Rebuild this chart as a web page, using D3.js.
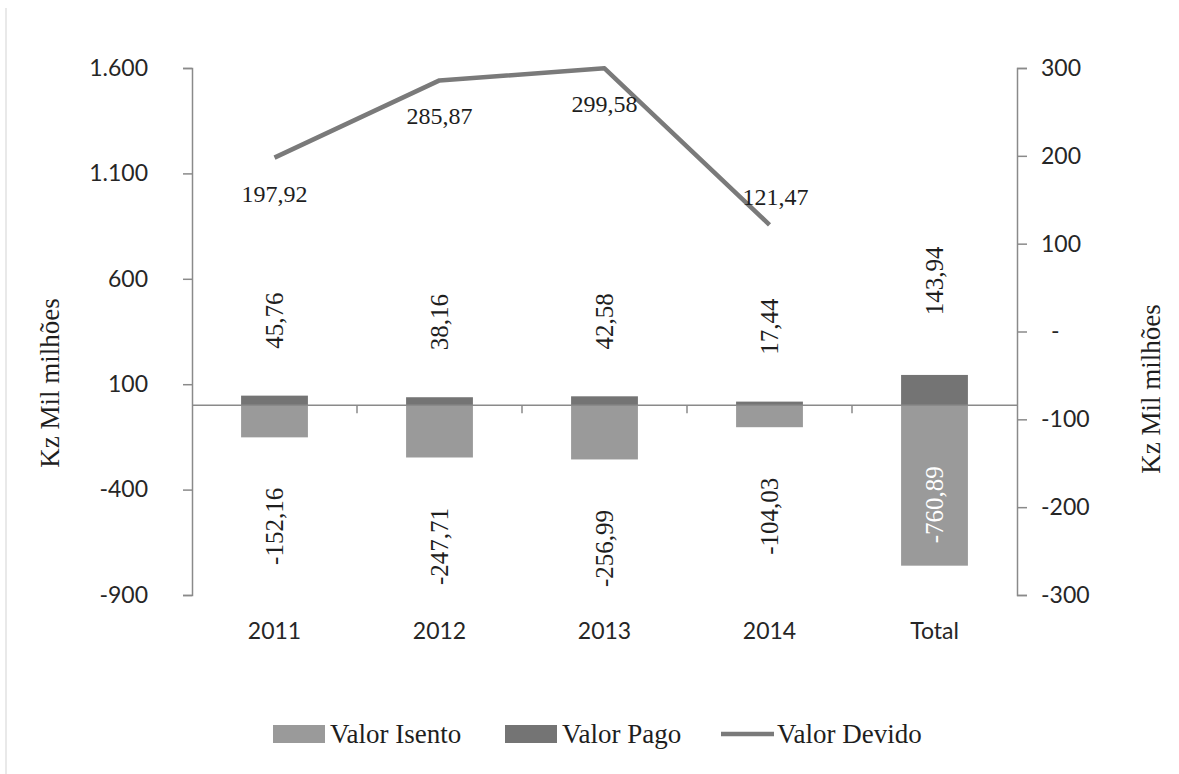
<!DOCTYPE html>
<html>
<head>
<meta charset="utf-8">
<script src="https://cdn.jsdelivr.net/npm/d3@7"></script>
<style>
  html, body { margin: 0; padding: 0; background: #fff; }
  svg { display: block; }
</style>
</head>
<body>
<svg id="chart" width="1179" height="774"></svg>
<script>
// Categories and series (Kz Mil milhões)
const categories = ["2011", "2012", "2013", "2014", "Total"];
const valorIsento = [-152.16, -247.71, -256.99, -104.03, -760.89];
const valorPago = [45.76, 38.16, 42.58, 17.44, 143.94];
const devidoCategories = ["2011", "2012", "2013", "2014"];
const valorDevido = [197.92, 285.87, 299.58, 121.47];

// Axis ticks
const leftTicks = [-900, -400, 100, 600, 1100, 1600];
const rightTicks = [-300, -200, -100, 0, 100, 200, 300];
const axisTitle = "Kz Mil milhões";
const legendLabels = ["Valor Isento", "Valor Pago", "Valor Devido"];

const colIsento = "#9a9a9a";
const colPago = "#747474";
const colLine = "#7a7a7a";
const colAxis = "#8a8a8a";
const colText = "#1e1e1e";
const colTick = "#262626";
const serif = "'Liberation Serif', 'Times New Roman', serif";
const sans = "Lato, 'Open Sans', sans-serif";

const svg = d3.select("#chart");

const plot = { left: 192, right: 1017, top: 68, bottom: 595 };

const x = d3.scaleBand().domain(categories).range([plot.left, plot.right]).paddingInner(0).paddingOuter(0);
const yL = d3.scaleLinear().domain([-900, 1600]).range([plot.bottom, plot.top]);
const yR = d3.scaleLinear().domain([-300, 300]).range([plot.bottom, plot.top]);

// Portuguese number formats with a plain hyphen for negatives
const hyphen = s => s.replace(/\u2212/g, "-");
const fmtPt = v => hyphen(d3.format(",.0f")(v).replace(/,/g, "."));
const fmtComma = v => hyphen(d3.format(".2f")(v).replace(".", ","));

// thin frame line at the left edge
svg.append("line").attr("x1", 6).attr("x2", 6).attr("y1", 8).attr("y2", 774)
  .attr("stroke", "#e2e2e2").attr("stroke-width", 1.5);

// Bars
const barW = x.bandwidth() * 0.405;
const cx = c => x(c) + x.bandwidth() / 2;

svg.append("g").selectAll("rect").data(categories).join("rect")
  .attr("x", (c) => cx(c) - barW / 2)
  .attr("width", barW)
  .attr("y", (c, i) => yL(0))
  .attr("height", (c, i) => yL(valorIsento[i]) - yL(0))
  .attr("fill", colIsento);

svg.append("g").selectAll("rect").data(categories).join("rect")
  .attr("x", (c) => cx(c) - barW / 2)
  .attr("width", barW)
  .attr("y", (c, i) => yL(valorPago[i]))
  .attr("height", (c, i) => yL(0) - yL(valorPago[i]))
  .attr("fill", colPago);

// Left axis
const leftAxis = d3.axisLeft(yL).tickValues(leftTicks).tickFormat(fmtPt).tickSize(9).tickPadding(35);
const gL = svg.append("g").attr("transform", `translate(${plot.left},0)`).call(leftAxis);
gL.select(".domain").attr("stroke", colAxis).attr("stroke-width", 1.5);
gL.selectAll(".tick line").attr("stroke", colAxis).attr("stroke-width", 1.5);
gL.selectAll(".tick text").attr("font-family", sans).attr("font-size", 23).attr("fill", colTick);

// Right axis
const rightAxis = d3.axisRight(yR).tickValues(rightTicks)
  .tickFormat(v => v === 0 ? "-" : hyphen(d3.format("d")(v))).tickSize(10).tickPadding(14);
const gR = svg.append("g").attr("transform", `translate(${plot.right},0)`).call(rightAxis);
gR.select(".domain").attr("stroke", colAxis).attr("stroke-width", 1.5);
gR.selectAll(".tick line").attr("stroke", colAxis).attr("stroke-width", 1.5);
gR.selectAll(".tick text").attr("font-family", sans).attr("font-size", 23).attr("fill", colTick)
  .attr("dx", d => d === 0 ? 10 : 0);

// Category axis along zero
const gX = svg.append("g").attr("transform", `translate(0,${yL(0)})`);
gX.append("line").attr("x1", plot.left).attr("x2", plot.right).attr("y1", 0).attr("y2", 0)
  .attr("stroke", colAxis).attr("stroke-width", 1.5);
gX.selectAll("line.tk").data(categories.slice(1)).join("line").attr("class", "tk")
  .attr("x1", c => x(c)).attr("x2", c => x(c)).attr("y1", 0).attr("y2", 8)
  .attr("stroke", colAxis).attr("stroke-width", 1.5);

svg.append("g").selectAll("text").data(categories).join("text")
  .attr("x", c => cx(c)).attr("y", 630)
  .attr("text-anchor", "middle").attr("dominant-baseline", "central")
  .attr("font-family", sans).attr("font-size", 23).attr("fill", colTick)
  .text(c => c);

// Line (right axis)
const line = d3.line().x(c => cx(c)).y((c, i) => yR(valorDevido[i]));
svg.append("path").datum(devidoCategories).attr("d", line)
  .attr("fill", "none").attr("stroke", colLine).attr("stroke-width", 4.5)
  .attr("stroke-linejoin", "round");

// Line labels: below the points, above the last one
const lastIdx = devidoCategories.length - 1;
svg.append("g").selectAll("text").data(devidoCategories).join("text")
  .attr("x", (c, i) => i === lastIdx ? cx(c) + 6 : cx(c))
  .attr("y", (c, i) => i === lastIdx ? yR(valorDevido[i]) - 28 : yR(valorDevido[i]) + 36)
  .attr("text-anchor", "middle").attr("dominant-baseline", "central")
  .attr("font-family", serif).attr("font-size", 24).attr("fill", colText)
  .text((c, i) => fmtComma(valorDevido[i]));

// Pago labels (vertical, above bars)
svg.append("g").selectAll("text").data(categories).join("text")
  .attr("transform", (c, i) => {
    const off = c === "Total" ? 94 : 75;
    return `translate(${cx(c)},${yL(valorPago[i]) - off}) rotate(-90)`;
  })
  .attr("text-anchor", "middle").attr("dominant-baseline", "central")
  .attr("font-family", serif).attr("font-size", 25).attr("fill", colText)
  .text((c, i) => fmtComma(valorPago[i]));

// Isento labels (vertical, below bars; inside for the total)
svg.append("g").selectAll("text").data(categories).join("text")
  .attr("transform", (c, i) => {
    const yy = c === "Total" ? yL(valorIsento[i]) - 61 : yL(valorIsento[i]) + 89;
    return `translate(${cx(c)},${yy}) rotate(-90)`;
  })
  .attr("text-anchor", "middle").attr("dominant-baseline", "central")
  .attr("font-family", serif).attr("font-size", 25)
  .attr("fill", c => c === "Total" ? "#ffffff" : colText)
  .text((c, i) => fmtComma(valorIsento[i]));

// Axis titles
svg.append("text").attr("transform", "translate(50,383) rotate(-90)")
  .attr("text-anchor", "middle").attr("dominant-baseline", "central")
  .attr("font-family", serif).attr("font-size", 27).attr("fill", colText).text(axisTitle);
svg.append("text").attr("transform", "translate(1151,389) rotate(-90)")
  .attr("text-anchor", "middle").attr("dominant-baseline", "central")
  .attr("font-family", serif).attr("font-size", 27).attr("fill", colText).text(axisTitle);

// Legend
const legY = 734;
const legend = svg.append("g");
const legItems = [
  { label: legendLabels[0], kind: "rect", color: colIsento, x: 273 },
  { label: legendLabels[1], kind: "rect", color: colPago, x: 505 },
  { label: legendLabels[2], kind: "line", color: colLine, x: 721 }
];
legItems.forEach(d => {
  if (d.kind === "rect") {
    legend.append("rect").attr("x", d.x).attr("y", legY - 9).attr("width", 52).attr("height", 18).attr("fill", d.color);
  } else {
    legend.append("line").attr("x1", d.x).attr("x2", d.x + 53).attr("y1", legY).attr("y2", legY)
      .attr("stroke", d.color).attr("stroke-width", 4.5);
  }
  legend.append("text").attr("x", d.x + (d.kind === "rect" ? 57 : 56)).attr("y", legY)
    .attr("dominant-baseline", "central")
    .attr("font-family", serif).attr("font-size", 27).attr("fill", colText).text(d.label);
});
</script>
</body>
</html>
